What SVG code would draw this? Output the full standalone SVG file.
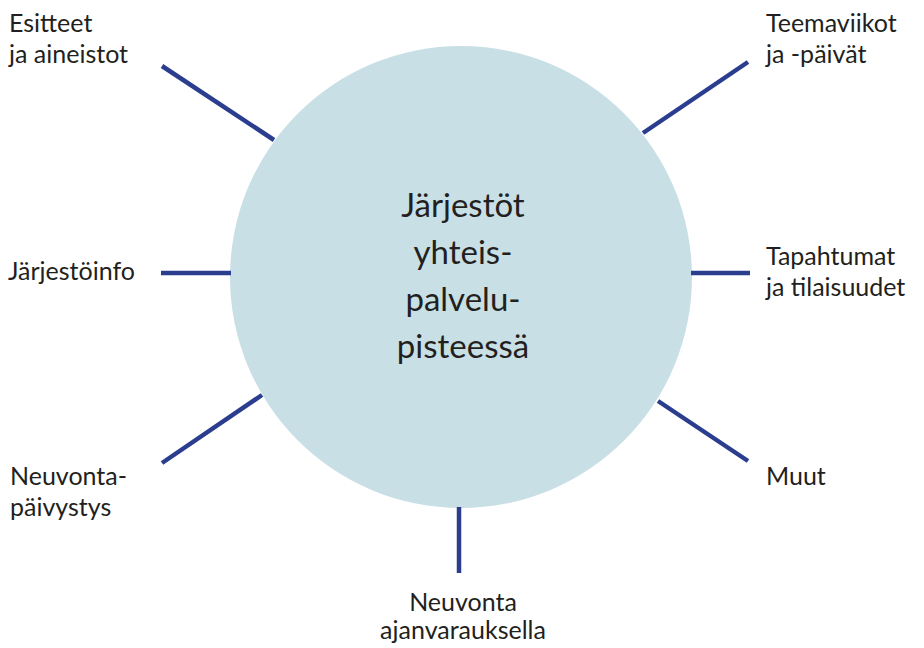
<svg xmlns="http://www.w3.org/2000/svg" width="924" height="648" viewBox="0 0 924 648">
<style>
.lbl{font-family:"Lato","Open Sans","Liberation Sans",sans-serif;font-size:25px;fill:#231f20}
.ctr{font-family:"Lato","Open Sans","Liberation Sans",sans-serif;font-size:33px;fill:#231f20;text-anchor:middle}
.con line{stroke:#2b3d8e;stroke-width:4.5}
</style>
<rect width="924" height="648" fill="#ffffff"/>
<g id="hub">
<circle cx="461" cy="277" r="231" fill="#c8dfe5"/>
<text class="ctr"><tspan x="463" y="217">Järjestöt</tspan><tspan x="463" y="264">yhteis-</tspan><tspan x="463" y="311">palvelu-</tspan><tspan x="463" y="358">pisteessä</tspan></text>
</g>
<g id="connectors" class="con">
<line x1="162" y1="66" x2="274" y2="140"/>
<line x1="748" y1="62" x2="643" y2="133"/>
<line x1="161" y1="273" x2="231" y2="273"/>
<line x1="691" y1="273" x2="750" y2="273"/>
<line x1="162" y1="463" x2="262" y2="395"/>
<line x1="658" y1="401" x2="748" y2="461"/>
<line x1="459" y1="507" x2="459" y2="573"/>
</g>
<g id="n-esitteet"><text class="lbl"><tspan x="9" y="32">Esitteet</tspan><tspan x="9" y="63">ja aineistot</tspan></text></g>
<g id="n-teemaviikot"><text class="lbl"><tspan x="766" y="32">Teemaviikot</tspan><tspan x="766" y="63">ja -päivät</tspan></text></g>
<g id="n-jarjestoinfo"><text class="lbl"><tspan x="8" y="280">Järjestöinfo</tspan></text></g>
<g id="n-tapahtumat"><text class="lbl"><tspan x="766" y="265">Tapahtumat</tspan><tspan x="766" y="296">ja tilaisuudet</tspan></text></g>
<g id="n-neuvontapaivystys"><text class="lbl"><tspan x="10" y="485">Neuvonta-</tspan><tspan x="10" y="516">päivystys</tspan></text></g>
<g id="n-muut"><text class="lbl"><tspan x="766" y="485">Muut</tspan></text></g>
<g id="n-neuvonta"><text class="lbl" text-anchor="middle"><tspan x="463" y="611">Neuvonta</tspan><tspan x="463" y="639">ajanvarauksella</tspan></text></g>
</svg>
